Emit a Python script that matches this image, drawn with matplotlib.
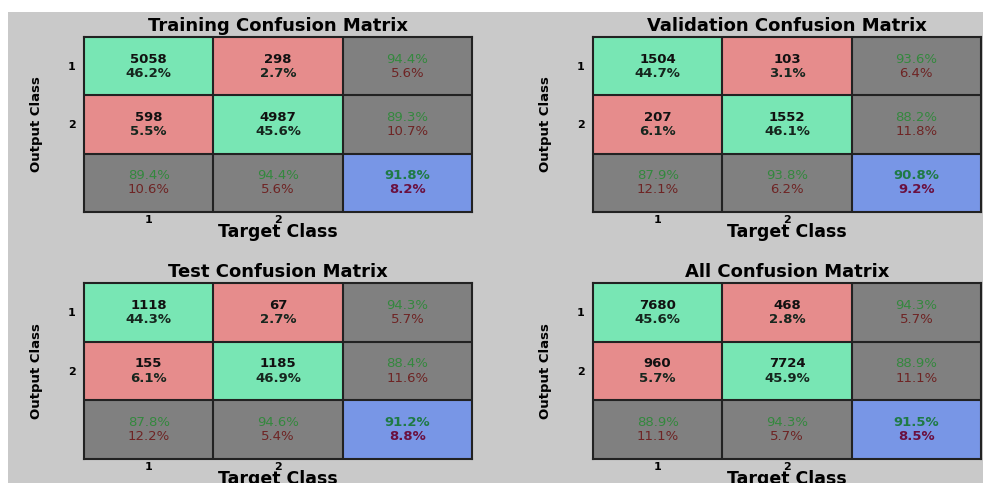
import numpy as np
import matplotlib.pyplot as plt
from matplotlib.colors import ListedColormap
from matplotlib.patches import Rectangle

# Confusion matrix data (rows = output class, cols = target class)
titles = ["Training", "Validation", "Test", "All"]
train_counts = [[5058, 298], [598, 4987]]
val_counts = [[1504, 103], [207, 1552]]
test_counts = [[1118, 67], [155, 1185]]
all_counts = [[7680, 468], [960, 7724]]
class_labels = ["1", "2"]

all_data = [train_counts, val_counts, test_counts, all_counts]

# cell kinds: 0 correct, 1 wrong, 2 summary, 3 overall
cell_kind = np.array([[0, 1, 2], [1, 0, 2], [2, 2, 3]])
cmap = ListedColormap(["#78e6b4", "#e68c8c", "#808080", "#7896e6"])

W, H = 983, 483
fig = plt.figure(figsize=(W / 100, H / 100), dpi=100)
fig.patch.set_facecolor("white")
fig.patches.append(Rectangle((8 / W, 0), 1, 1 - 12 / H, transform=fig.transFigure,
                             facecolor="#c9c9c9", edgecolor="none", zorder=-10))

# axes boxes in pixels: left, top, right, bottom
boxes = [(84, 37, 472, 212), (593, 37, 981, 212),
         (84, 283, 472, 459), (593, 283, 981, 459)]

green_txt = "#34883e"
red_txt = "#6e2424"
fs = 9.5
dy = 0.12

for name, counts, (l, t, r, b) in zip(titles, all_data, boxes):
    ax = fig.add_axes([l / W, 1 - b / H, (r - l) / W, (b - t) / H])
    ax.imshow(cell_kind, cmap=cmap, vmin=-0.5, vmax=3.5, aspect="auto",
              extent=(0.5, 3.5, 3.5, 0.5), interpolation="nearest")
    for p in [1.5, 2.5]:
        ax.axhline(p, color="#222222", lw=1.5)
        ax.axvline(p, color="#222222", lw=1.5)
    for s in ax.spines.values():
        s.set_linewidth(1.5)
        s.set_color("#222222")

    c = np.array(counts, dtype=float)
    total = c.sum()
    for i in range(2):
        for j in range(2):
            ax.text(j + 1, i + 1 - dy, f"{int(c[i, j])}", ha="center", va="center",
                    fontsize=fs, fontweight="bold", color="#111111")
            ax.text(j + 1, i + 1 + dy, f"{100 * c[i, j] / total:.1f}%", ha="center",
                    va="center", fontsize=fs, fontweight="bold", color="#16261e")
    # row summaries (precision)
    for i in range(2):
        p = 100 * c[i, i] / c[i].sum()
        ax.text(3, i + 1 - dy, f"{p:.1f}%", ha="center", va="center",
                fontsize=fs, color=green_txt)
        ax.text(3, i + 1 + dy, f"{100 - p:.1f}%", ha="center", va="center",
                fontsize=fs, color=red_txt)
    # column summaries (recall)
    for j in range(2):
        p = 100 * c[j, j] / c[:, j].sum()
        ax.text(j + 1, 3 - dy, f"{p:.1f}%", ha="center", va="center",
                fontsize=fs, color=green_txt)
        ax.text(j + 1, 3 + dy, f"{100 - p:.1f}%", ha="center", va="center",
                fontsize=fs, color=red_txt)
    acc = 100 * np.trace(c) / total
    ax.text(3, 3 - dy, f"{acc:.1f}%", ha="center", va="center",
            fontsize=fs, fontweight="bold", color="#1f7a45")
    ax.text(3, 3 + dy, f"{100 - acc:.1f}%", ha="center", va="center",
            fontsize=fs, fontweight="bold", color="#6a1040")

    ax.set_xticks([1, 2], class_labels, fontsize=8, fontweight="bold")
    ax.set_yticks([1, 2], class_labels, fontsize=8, fontweight="bold")
    ax.tick_params(axis="x", length=0, pad=2)
    ax.tick_params(axis="y", length=0, pad=6)
    ax.set_title(f"{name} Confusion Matrix", fontsize=13, fontweight="bold", pad=4)
    ax.set_xlabel("Target Class", fontsize=12.5, fontweight="bold", labelpad=-1)
    ax.set_ylabel("Output Class", fontsize=9.5, fontweight="bold", labelpad=18)

fig.savefig("out.png", dpi=100)
